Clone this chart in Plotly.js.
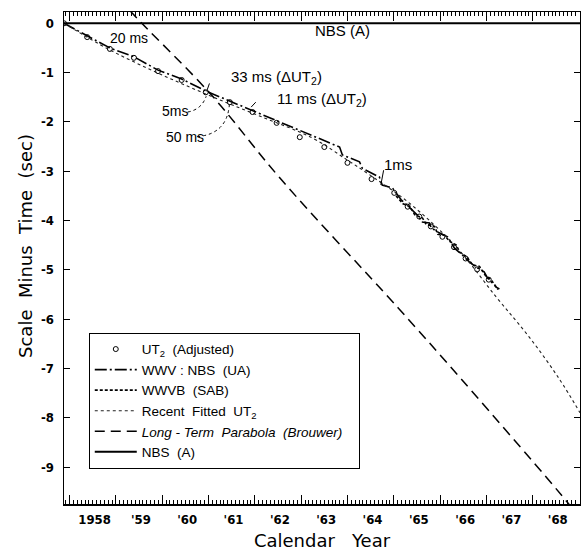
<!DOCTYPE html>
<html><head><meta charset="utf-8">
<script src="https://cdn.plot.ly/plotly-3.0.1.min.js"></script>
<style>html,body{margin:0;padding:0;background:#fff}#chart{width:581px;height:555px}</style>
</head><body><div id="chart"></div>
<script>
// ---- axis ticks ----
const yearTicks = [1958,1959,1960,1961,1962,1963,1964,1965,1966,1967,1968];
const yearLabels = ['1958',"'59","'60","'61","'62","'63","'64","'65","'66","'67","'68"];
const yTicks = [0,-1,-2,-3,-4,-5,-6,-7,-8,-9];
const yLabels = ['0','-1','-2','-3','-4','-5','-6','-7','-8','-9'];

// ---- UT2 (Adjusted) ----
const ut2Year = [1957.88,1958.38,1958.87,1959.39,1959.91,1960.42,1960.94,1961.46,1961.95,1962.47,1962.97,1963.50,1964.00,1964.52,1965.01,1965.30,1965.55,1965.80,1966.05,1966.30,1966.55,1966.80,1967.05];
const ut2Val  = [0,-0.28,-0.52,-0.70,-0.97,-1.15,-1.40,-1.60,-1.80,-2.02,-2.31,-2.51,-2.83,-3.16,-3.44,-3.72,-3.92,-4.12,-4.33,-4.54,-4.77,-4.99,-5.20];

// ---- WWV : NBS (UA) ----
const wwvYear = [1957.88,1958.38,1958.87,1959.39,1959.91,1960.42,1960.98,1963.83,1963.89,1964.26,1964.32,1964.69,1964.75,1964.97,1965.08,1965.16,1965.29,1965.44,1965.55,1965.60,1965.77,1965.81,1965.98,1966.16,1966.24,1966.31,1966.48,1966.63,1966.80,1966.95,1967.02,1967.21,1967.28];
const wwvVal  = [0,-0.26,-0.50,-0.68,-0.95,-1.13,-1.39,-2.51,-2.67,-2.81,-2.94,-3.12,-3.28,-3.34,-3.48,-3.58,-3.69,-3.83,-3.93,-4.03,-4.05,-4.15,-4.25,-4.33,-4.46,-4.56,-4.70,-4.84,-4.96,-5.04,-5.16,-5.35,-5.39];

// ---- WWVB (SAB) ----
const wwvbYear = [1965.05,1965.20,1965.35,1965.45,1965.62,1965.70,1965.88,1965.95,1966.10,1966.20,1966.35,1966.42,1966.58,1966.70,1966.85,1966.98,1967.10,1967.25];
const wwvbVal  = [-3.50,-3.66,-3.72,-3.88,-3.95,-4.08,-4.12,-4.28,-4.30,-4.42,-4.50,-4.64,-4.74,-4.90,-4.93,-5.12,-5.20,-5.40];

// ---- Recent Fitted UT2 ----
const fitYear = [1957.88,1958.87,1959.91,1960.98,1962.10,1963.25,1963.99,1964.52,1965.34,1966.35,1967.21,1967.92,1968.57,1969.02];
const fitVal  = [0,-0.54,-1.01,-1.45,-1.88,-2.33,-2.77,-3.10,-3.65,-4.54,-5.55,-6.36,-7.21,-7.90];

// ---- Long-Term Parabola (Brouwer) ----
const parYear = [1959.30,1959.56,1961.03,1962.58,1965.10,1966.46,1968.76,1969.02];
const parVal  = [0.26,0,-1.42,-3.18,-5.78,-7.22,-9.73,-10.05];

// ---- NBS (A) ----
const nbsYear = [1957.88,1969.02];
const nbsVal  = [0,0];

const F = 'Liberation Sans, Arial, sans-serif';
const FW = 'DejaVu Sans, Verdana, sans-serif';
const traces = [
  {x:ut2Year,y:ut2Val,mode:'markers',name:'UT<sub>2</sub>  (Adjusted)',
   marker:{symbol:'circle-open',size:5,color:'#000',line:{width:1,color:'#000'}}},
  {x:wwvYear,y:wwvVal,mode:'lines',name:'WWV : NBS  (UA)',
   line:{color:'#000',width:1.6,dash:'12px,3px,2px,3px'}},
  {x:wwvbYear,y:wwvbVal,mode:'lines',name:'WWVB  (SAB)',
   line:{color:'#000',width:1.6,dash:'3px,2px'}},
  {x:fitYear,y:fitVal,mode:'lines',name:'Recent  Fitted  UT<sub>2</sub>',line:{color:'#222',width:1.1,dash:'dot',shape:'spline'}},
  {x:parYear,y:parVal,mode:'lines',name:'<i>Long - Term  Parabola  (Brouwer)</i>&nbsp;&nbsp;&nbsp;',
   line:{color:'#000',width:1.5,dash:'10px,6px',shape:'spline'}},
  {x:nbsYear,y:nbsVal,mode:'lines',name:'NBS  (A)',line:{color:'#000',width:2}}
];

const annFont = {family:F,size:15,color:'#000'};
const annotations = [
  {x:1963.89,y:-0.14,text:'NBS (A)'},
  {x:1959.28,y:-0.30,text:'20 ms',font:{family:F,size:14,color:'#000'}},
  {x:1962.47,y:-1.09,text:'33 ms (ΔUT<sub>2</sub>)'},
  {x:1963.44,y:-1.54,text:'11 ms (ΔUT<sub>2</sub>)'},
  {x:1960.27,y:-1.78,text:'5ms',font:{family:F,size:14,color:'#000'}},
  {x:1960.49,y:-2.31,text:'50 ms',font:{family:F,size:14,color:'#000'}},
  {x:1965.08,y:-2.87,text:'1ms'}
].map(a=>Object.assign({xref:'x',yref:'y',showarrow:false,font:annFont},a));
annotations.push({xref:'paper',yref:'paper',x:-0.076,y:0.524,xanchor:'center',yanchor:'middle',
  textangle:-90,showarrow:false,text:'Scale  Minus  Time  (sec)',font:{family:FW,size:18,color:'#000'}});

const shapes = [
  {type:'line',x0:1964.78,y0:-2.98,x1:1964.72,y1:-3.28,line:{color:'#000',width:1}},
  {type:'line',x0:1961.02,y0:-1.22,x1:1960.96,y1:-1.38,line:{color:'#000',width:1}},
  {type:'line',x0:1961.92,y0:-1.70,x1:1962.02,y1:-1.60,line:{color:'#000',width:1}},
  {type:'path',path:'M 1960.75 -2.30 Q 1961.4 -2.25 1961.45 -1.65',line:{color:'#000',width:1,dash:'dot'}},
  {type:'path',path:'M 1960.55 -1.80 Q 1960.85 -1.75 1960.95 -1.48',line:{color:'#000',width:1,dash:'dot'}}
];

const layout = {
  width:581,height:555,
  margin:{l:64,r:1,t:12,b:51},
  paper_bgcolor:'#fff',plot_bgcolor:'#fff',
  showlegend:true,
  legend:{x:0.048,y:0.348,xanchor:'left',yanchor:'top',bgcolor:'#fff',
    bordercolor:'#000',borderwidth:1,font:{family:F,size:13.5,color:'#000'},
    tracegroupgap:0,itemwidth:42},
  xaxis:{range:[1957.88,1969.02],tickmode:'array',tickvals:yearTicks,ticktext:yearLabels,
    ticks:'inside',ticklen:9,tickwidth:1,tickcolor:'#000',ticklabelshift:25,
    minor:{dtick:1/12,tick0:1958,ticks:'inside',ticklen:4,tickwidth:1,tickcolor:'#000'},
    showline:true,linecolor:'#000',linewidth:1.5,mirror:'allticks',showgrid:false,zeroline:false,
    tickfont:{family:'Liberation Sans Narrow, DejaVu Sans Condensed, sans-serif',size:13,color:'#000',weight:'bold'},
    ticklabelstandoff:3,
    title:{text:'Calendar   Year',font:{family:FW,size:18,color:'#000'},standoff:8}},
  yaxis:{range:[-9.75,0.229],tickmode:'array',tickvals:yTicks,ticktext:yLabels,
    ticks:'inside',ticklen:6,tickwidth:1,tickcolor:'#000',
    showline:true,linecolor:'#000',linewidth:1.5,mirror:'ticks',showgrid:false,zeroline:false,
    tickfont:{family:'Liberation Sans Narrow, DejaVu Sans Condensed, sans-serif',size:13,color:'#000',weight:'bold'},
    ticklabelstandoff:6},
  annotations:annotations,
  shapes:shapes
};

Plotly.newPlot('chart',traces,layout,{staticPlot:true,displayModeBar:false});
</script>
</body></html>
